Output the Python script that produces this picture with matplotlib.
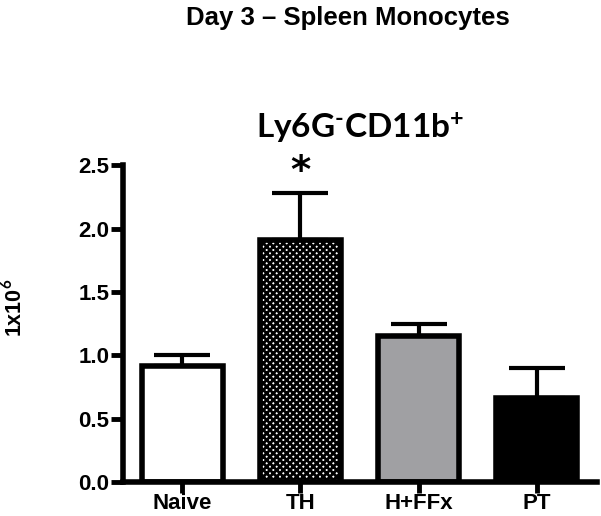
import matplotlib.pyplot as plt
import matplotlib as mpl

mpl.rcParams['hatch.linewidth'] = 2.0
mpl.rcParams['mathtext.fontset'] = 'custom'
mpl.rcParams['mathtext.rm'] = 'Lato:bold'
mpl.rcParams['mathtext.bf'] = 'Lato:bold'

groups = ["Naive", "TH", "H+FFx", "PT"]
means = [0.915, 1.91, 1.15, 0.665]
sem = [0.09, 0.37, 0.10, 0.235]
colors = ["white", "white", "#a0a0a3", "black"]
hatches = [None, "xxxxx", None, None]

fig = plt.figure(figsize=(6.01, 5.16), dpi=100)
ax = fig.add_axes([0.2047, 0.0659, 0.7887, 0.614])

x = range(len(groups))
bars = ax.bar(x, means, width=0.685, color=colors, edgecolor="black", linewidth=4, zorder=2)
for b, h in zip(bars, hatches):
    if h:
        b.set_hatch(h)
ax.errorbar(x, means, yerr=[[0]*4, sem], fmt="none", ecolor="black",
            elinewidth=3, capsize=20, capthick=3, zorder=1)

ax.set_xlim(-0.5, 3.51)
ax.set_ylim(0, 2.5)
ax.set_yticks([0, 0.5, 1.0, 1.5, 2.0, 2.5])
ax.set_yticklabels(["0.0", "0.5", "1.0", "1.5", "2.0", "2.5"])
ax.set_xticks(list(x))
ax.set_xticklabels(groups)
for s in ["top", "right"]:
    ax.spines[s].set_visible(False)
for s in ["left", "bottom"]:
    ax.spines[s].set_linewidth(4)
ax.tick_params(width=3.5, length=9, pad=1)
ax.tick_params(axis="x", length=8, pad=0)
for lab in ax.get_xticklabels() + ax.get_yticklabels():
    lab.set_fontfamily("Liberation Sans")
    lab.set_fontweight("bold")
    lab.set_fontsize(16)

# significance marker above TH
ax.text(1, 2.36, "*", ha="center", va="baseline", fontsize=28,
        fontweight="bold", fontfamily="DejaVu Sans")

fig.text(0.578, 0.966, "Day 3 – Spleen Monocytes", ha="center", va="center",
         fontsize=18.5, fontweight="bold", fontfamily="Liberation Sans")
fig.text(0.6, 0.752, r"$\mathbf{Ly6G^{\text{-}}CD11b^{+}}$", ha="center", va="center", fontsize=24)
fig.text(0.025, 0.403, r"1x10$^{\mathbf{6}}$", ha="center", va="center", rotation=90,
         fontsize=15.5, fontweight="bold", fontfamily="Liberation Sans")

fig.savefig("out.png", dpi=100)
